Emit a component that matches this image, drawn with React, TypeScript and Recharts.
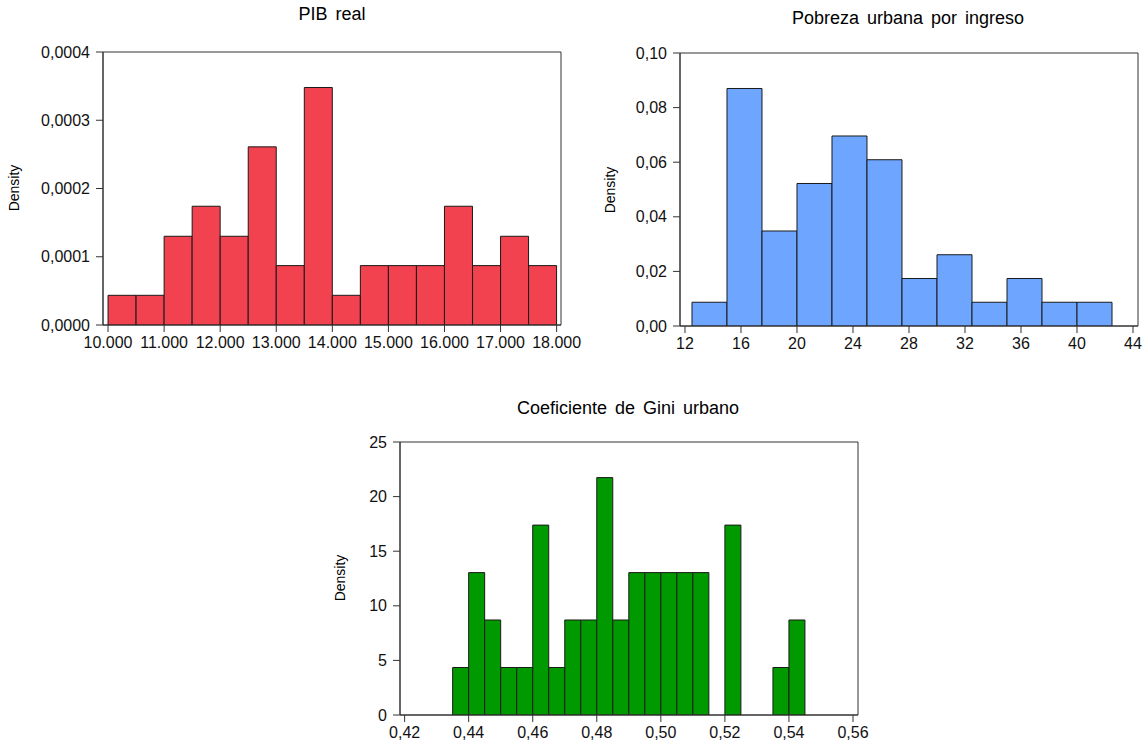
import React from 'react';
import { BarChart, Bar, XAxis, YAxis, ReferenceArea } from 'recharts';

// ---- PIB real ----
const pibBins = [10250, 10750, 11250, 11750, 12250, 12750, 13250, 13750, 14250, 14750, 15250, 15750, 16250, 16750, 17250, 17750];
const pibDensity = [0.0000435, 0.0000435, 0.00013, 0.000174, 0.00013, 0.000261, 0.000087, 0.000348, 0.0000435, 0.000087, 0.000087, 0.000087, 0.000174, 0.000087, 0.00013, 0.000087];
const pibXTicks = [10000, 11000, 12000, 13000, 14000, 15000, 16000, 17000, 18000];
const pibYTicks = [0, 0.0001, 0.0002, 0.0003, 0.0004];

// ---- Pobreza urbana por ingreso ----
const pobBins = [13.75, 16.25, 18.75, 21.25, 23.75, 26.25, 28.75, 31.25, 33.75, 36.25, 38.75, 41.25];
const pobDensity = [0.0087, 0.087, 0.0348, 0.0522, 0.0696, 0.0609, 0.0174, 0.0261, 0.0087, 0.0174, 0.0087, 0.0087];
const pobXTicks = [12, 16, 20, 24, 28, 32, 36, 40, 44];
const pobYTicks = [0, 0.02, 0.04, 0.06, 0.08, 0.1];

// ---- Coeficiente de Gini urbano ----
const giniBins = [0.4375, 0.4425, 0.4475, 0.4525, 0.4575, 0.4625, 0.4675, 0.4725, 0.4775, 0.4825, 0.4875, 0.4925, 0.4975, 0.5025, 0.5075, 0.5125, 0.5175, 0.5225, 0.5275, 0.5325, 0.5375, 0.5425];
const giniDensity = [4.35, 13.04, 8.7, 4.35, 4.35, 17.39, 4.35, 8.7, 8.7, 21.74, 8.7, 13.04, 13.04, 13.04, 13.04, 13.04, 0, 17.39, 0, 0, 4.35, 8.7];
const giniXTicks = [0.42, 0.44, 0.46, 0.48, 0.5, 0.52, 0.54, 0.56];
const giniYTicks = [0, 5, 10, 15, 20, 25];

const FONT = '"Liberation Sans", Arial, sans-serif';
const LINE = '#333333';
const tickStyle = { fill: '#111111', fontSize: 16, fontFamily: FONT };

const fmtThousands = (v: number) => String(Math.round(v)).replace(/\B(?=(\d{3})+(?!\d))/g, '.');
const fmtDec = (d: number) => (v: number) => v.toFixed(d).replace('.', ',');

type HistProps = {
  bins: number[];
  density: number[];
  xDomain: [number, number];
  yMax: number;
  xTicks: number[];
  yTicks: number[];
  xFmt: (v: number) => string;
  yFmt: (v: number) => string;
  fill: string;
  width: number;
  height: number;
  xAxisHeight: number;
  margin: { top: number; right: number; bottom: number; left: number };
};

function Hist(p: HistProps) {
  const data = p.bins.map((b, i) => ({ center: b, density: p.density[i] }));
  return (
    <BarChart width={p.width} height={p.height} data={data} margin={p.margin} barCategoryGap={0} barGap={0}>
      <XAxis
        dataKey="center"
        type="number"
        domain={p.xDomain}
        allowDataOverflow
        ticks={p.xTicks}
        interval={0}
        tickFormatter={p.xFmt}
        tick={tickStyle}
        tickSize={7}
        tickMargin={5}
        height={p.xAxisHeight}
        stroke={LINE}
        axisLine={{ stroke: LINE }}
        tickLine={{ stroke: LINE }}
      />
      <YAxis
        type="number"
        domain={[0, p.yMax]}
        allowDataOverflow
        ticks={p.yTicks}
        interval={0}
        tickFormatter={p.yFmt}
        tick={tickStyle}
        tickSize={7}
        tickMargin={6}
        width={60}
        stroke={LINE}
        axisLine={{ stroke: LINE }}
        tickLine={{ stroke: LINE }}
      />
      <Bar dataKey="density" fill={p.fill} stroke="#1a1a1a" strokeWidth={1} isAnimationActive={false} />
      <ReferenceArea x1={p.xDomain[0]} x2={p.xDomain[1]} y1={0} y2={p.yMax} fill="none" stroke={LINE} strokeWidth={1} ifOverflow="visible" />
    </BarChart>
  );
}

const titleStyle: React.CSSProperties = {
  position: 'absolute',
  fontFamily: FONT,
  fontSize: 18,
  lineHeight: '20px',
  textAlign: 'center',
  color: '#000',
  wordSpacing: 3,
  whiteSpace: 'nowrap',
};

const densityStyle: React.CSSProperties = {
  position: 'absolute',
  width: 80,
  height: 16,
  fontFamily: FONT,
  fontSize: 14,
  lineHeight: '16px',
  textAlign: 'center',
  color: '#000',
  transform: 'rotate(-90deg)',
  transformOrigin: 'center',
};

export default function App() {
  return (
    <div style={{ position: 'absolute', left: 0, top: 0, width: 1146, height: 748, background: '#fff', overflow: 'hidden' }}>
      <div style={{ ...titleStyle, left: 182, top: 4, width: 300 }}>PIB real</div>
      <div style={{ ...titleStyle, left: 708, top: 8, width: 400 }}>Pobreza urbana por ingreso</div>
      <div style={{ ...titleStyle, left: 428, top: 398, width: 400 }}>Coeficiente de Gini urbano</div>

      <div style={{ ...densityStyle, left: 14 - 40, top: 188 - 8 }}>Density</div>
      <div style={{ ...densityStyle, left: 610 - 40, top: 190 - 8 }}>Density</div>
      <div style={{ ...densityStyle, left: 340 - 40, top: 578 - 8 }}>Density</div>

      <div style={{ position: 'absolute', left: 0, top: 0 }}>
        <Hist
          bins={pibBins}
          density={pibDensity}
          xDomain={[9910, 18078]}
          yMax={0.0004}
          xTicks={pibXTicks}
          yTicks={pibYTicks}
          xFmt={fmtThousands}
          yFmt={fmtDec(4)}
          fill="#F2414F"
          width={600}
          height={365}
          xAxisHeight={35}
          margin={{ top: 52, right: 39, bottom: 5, left: 43 }}
        />
      </div>

      <div style={{ position: 'absolute', left: 600, top: 0 }}>
        <Hist
          bins={pobBins}
          density={pobDensity}
          xDomain={[11.643, 44.357]}
          yMax={0.1}
          xTicks={pobXTicks}
          yTicks={pobYTicks}
          xFmt={(v: number) => String(v)}
          yFmt={fmtDec(2)}
          fill="#6EA6FF"
          width={546}
          height={365}
          xAxisHeight={35}
          margin={{ top: 53, right: 8, bottom: 4, left: 20 }}
        />
      </div>

      <div style={{ position: 'absolute', left: 300, top: 380 }}>
        <Hist
          bins={giniBins}
          density={giniDensity}
          xDomain={[0.41856, 0.56156]}
          yMax={25}
          xTicks={giniXTicks}
          yTicks={giniYTicks}
          xFmt={fmtDec(2)}
          yFmt={(v: number) => String(v)}
          fill="#009900"
          width={580}
          height={368}
          xAxisHeight={33}
          margin={{ top: 62, right: 22, bottom: 0, left: 40 }}
        />
      </div>
    </div>
  );
}
